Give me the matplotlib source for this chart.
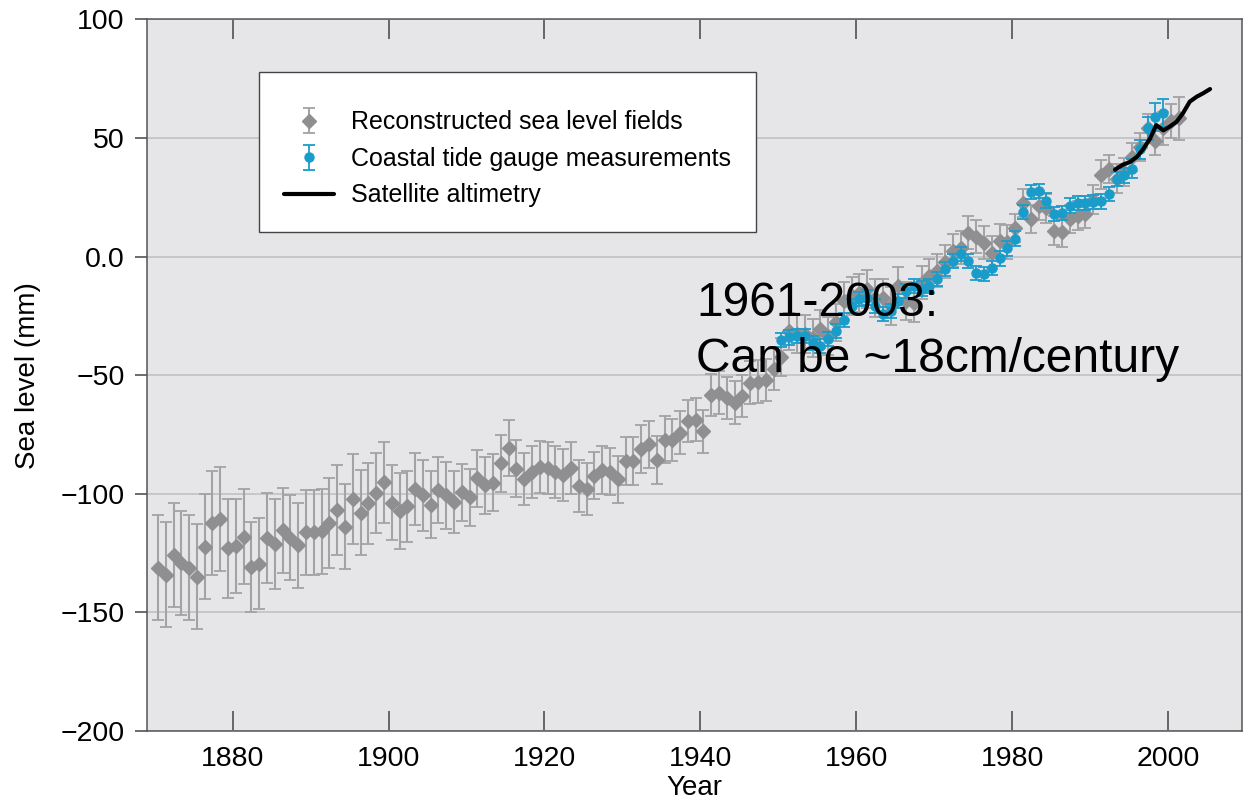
import matplotlib
matplotlib.use("Agg")
import matplotlib.pyplot as plt
import numpy as np

plt.rcParams['font.family'] = ['Liberation Sans', 'DejaVu Sans']

# reconstructed sea level fields (gray), annual values 1870-2001
recon_years = list(range(1870, 2002))
recon_mm = [
    -131.1, -134.1, -125.8, -129.3, -131.1, -134.9, -122.3, -112.4, -110.7, -123.0,
    -122.0, -118.2, -130.8, -129.4, -118.5, -121.0, -115.4, -118.5, -121.7, -116.3,
    -116.3, -115.8, -112.3, -106.8, -113.9, -102.1, -107.9, -104.1, -99.7, -95.2,
    -103.7, -107.3, -105.2, -98.0, -100.7, -104.6, -98.3, -100.7, -103.5, -99.3,
    -101.4, -93.4, -96.5, -95.4, -87.2, -80.7, -89.5, -93.9, -90.9, -88.7,
    -89.2, -90.7, -92.1, -89.0, -96.6, -98.0, -92.4, -89.9, -90.7, -93.9,
    -86.1, -86.1, -81.2, -79.2, -85.7, -77.2, -77.3, -74.2, -69.3, -68.7,
    -73.7, -58.4, -57.4, -59.6, -61.6, -58.8, -53.1, -52.8, -52.1, -47.2,
    -42.4, -31.6, -32.7, -32.7, -34.4, -30.6, -33.4, -27.8, -18.7, -16.6,
    -15.2, -13.8, -17.3, -17.3, -20.8, -12.4, -18.7, -19.4, -11.0, -8.1,
    -6.0, -2.2, 2.4, 3.8, 10.1, 8.4, 5.9, 1.7, 6.6, 6.1,
    12.1, 22.6, 15.8, 21.5, 20.3, 10.9, 10.2, 15.8, 17.2, 17.9,
    24.0, 34.5, 37.0, 32.8, 35.6, 42.0, 46.2, 54.0, 48.6, 54.0,
    57.1, 58.2,
]
recon_err = [
    22, 22, 22, 22, 22, 22, 22, 22, 22, 21,
    20, 20, 19, 19, 19, 19, 18, 18, 18, 18,
    18, 18, 19, 19, 18, 19, 18, 17, 17, 17,
    16, 16, 15, 15, 15, 14, 14, 14, 13, 12,
    12, 12, 12, 12, 12, 12, 12, 11, 11, 11,
    11, 11, 11, 11, 11, 11, 10, 10, 10, 10,
    10, 10, 10, 10, 10, 10, 9, 9, 9, 9,
    9, 9, 9, 9, 9, 9, 9, 9, 9, 9,
    8, 8, 8, 8, 8, 8, 8, 8, 8, 8,
    8, 8, 8, 8, 8, 8, 8, 8, 7, 7,
    7, 7, 7, 7, 7, 7, 7, 7, 7, 7,
    6, 6, 6, 6, 6, 6, 6, 6, 6, 6,
    6, 6, 6, 6, 6, 6, 6, 6, 6, 7,
    7, 9,
]

# coastal tide gauge measurements (blue), 1950-1999
tide_years = list(range(1950, 2000))
tide_mm = [
    -35.1, -34.1, -33.4, -33.4, -36.5, -37.6, -34.8, -31.3, -26.7, -20.8,
    -18.0, -17.3, -20.8, -24.3, -22.9, -18.7, -14.5, -12.4, -13.5, -12.4,
    -9.6, -5.1, -1.8, 1.0, -1.8, -7.0, -7.4, -4.8, -0.8, 3.4,
    7.6, 18.9, 27.1, 27.5, 23.6, 17.9, 18.4, 21.5, 22.6, 22.6,
    22.9, 23.2, 26.4, 32.8, 34.2, 37.0, 45.2, 54.0, 58.9, 60.6,
]
tide_err = [
    3, 3, 3, 3, 3, 3, 3, 3, 3, 3,
    3, 3, 3, 3, 3, 3, 3, 3, 3, 3,
    3, 3, 3, 3, 3, 3, 3, 3, 3, 3,
    3, 3, 3, 3, 3, 3, 3, 3, 3, 3,
    3, 3, 3, 3, 3, 4, 4, 5, 6, 6,
]

# satellite altimetry (black line)
sat_years = [1993.2, 1994.2, 1995.1, 1996.0, 1996.8, 1997.7, 1998.5, 1999.4,
             2000.2, 2001.1, 2001.9, 2002.8, 2003.7, 2004.5, 2005.4]
sat_mm = [36.6, 38.7, 39.8, 42.0, 45.2, 49.7, 55.4, 53.2,
          54.7, 56.8, 60.3, 65.3, 67.4, 68.8, 70.6]

x_ticks = [1880, 1900, 1920, 1940, 1960, 1980, 2000]
y_ticks = [-200, -150, -100, -50, 0, 50, 100]
y_tick_labels = ["\u2212200", "\u2212150", "\u2212100", "\u221250", "0.0", "50", "100"]

gray = "#8f8f92"
gray_err = "#a3a3a5"
blue = "#1a9ccb"

fig = plt.figure(figsize=(12.49, 8.01), dpi=100)
ax = fig.add_axes([0.1177, 0.0874, 0.8767, 0.8885])
ax.set_facecolor("#e6e6e8")

rx = np.array(recon_years) + 0.4
tx = np.array(tide_years) + 0.4

h_recon = ax.errorbar(rx, recon_mm, yerr=recon_err, fmt="D", color=gray,
                      ms=7, ecolor=gray_err, elinewidth=1.5, capsize=4,
                      capthick=1.3, zorder=3, label="Reconstructed sea level fields")
h_tide = ax.errorbar(tx, tide_mm, yerr=tide_err, fmt="o", color=blue,
                     ms=6.5, ecolor=blue, elinewidth=1.3, capsize=4,
                     capthick=1.3, zorder=4, label="Coastal tide gauge measurements")
h_sat, = ax.plot(sat_years, sat_mm, color="black", lw=3, zorder=5,
                 solid_capstyle="round", label="Satellite altimetry")

ax.set_xlim(1869, 2009.5)
ax.set_ylim(-200, 100)
ax.set_xticks(x_ticks)
ax.set_yticks(y_ticks)
ax.set_yticklabels(y_tick_labels)
ax.yaxis.grid(True, color="#c4c4c6", lw=1.3, zorder=0)
ax.set_axisbelow(True)

ax.tick_params(axis="x", direction="in", length=14.5, width=1.1, color="#444444",
               top=True, labelsize=20.5, pad=11)
ax.tick_params(axis="y", direction="out", length=9, width=1.1, color="#444444",
               labelsize=20.5, pad=7)
for s in ax.spines.values():
    s.set_color("#555555")
    s.set_linewidth(1.1)

ax.set_xlabel("Year", fontsize=20, labelpad=2)
ax.set_ylabel("Sea level (mm)", fontsize=20, labelpad=14)

leg = ax.legend(handles=[h_recon, h_tide, h_sat], loc="upper left",
                bbox_to_anchor=(0.102, 0.926), borderaxespad=0, fontsize=18,
                frameon=True, fancybox=False, edgecolor="#444444", framealpha=1,
                borderpad=1.0, labelspacing=0.5, handlelength=2.0,
                handletextpad=0.7, title=" ", title_fontsize=1)
leg.get_frame().set_linewidth(1.0)

ax.text(1939.5, -10.5, "1961-2003:\nCan be ~18cm/century", fontsize=34.5,
        ha="left", va="top", color="black", zorder=10, linespacing=1.3)

fig.savefig("out.png", dpi=100)
